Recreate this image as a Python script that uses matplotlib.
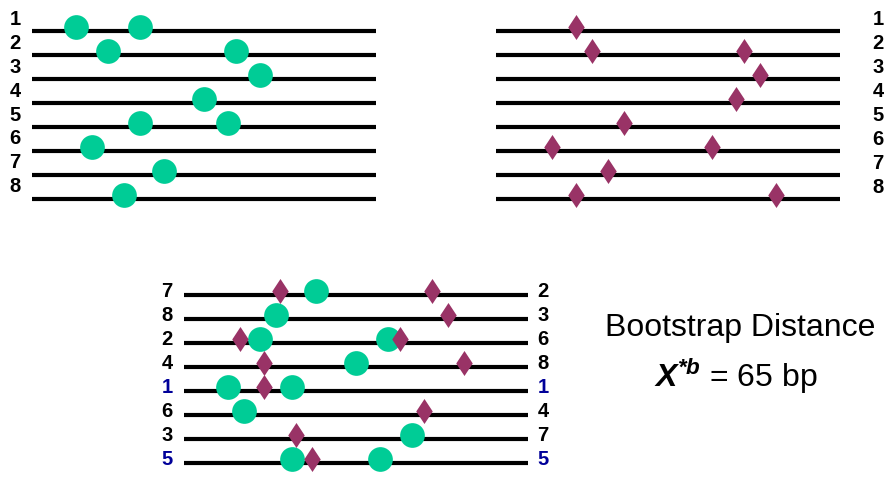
import matplotlib
matplotlib.use("Agg")
import matplotlib.pyplot as plt

# ---- data ----
rows = [1, 2, 3, 4, 5, 6, 7, 8]
# marker positions along each line (line length = 344 units)
circle_pos = [[44, 108], [76, 204], [228], [172], [108, 196], [60], [132], [92]]
diamond_pos = [[80], [96, 248], [264], [240], [128], [56, 216], [112], [80, 280]]
bottom_left_order = [7, 8, 2, 4, 1, 6, 3, 5]
bottom_right_order = [2, 3, 6, 8, 1, 4, 7, 5]
highlight_rows = [1, 5]
title_line1 = "Bootstrap Distance"
distance_bp = 65

# ---- style ----
LINE_LEN = 344
TEAL = "#00CC96"
PURPLE = "#993366"
NAVY = "#000099"
plt.rcParams['font.family'] = ['Liberation Sans', 'DejaVu Sans']
plt.rcParams['mathtext.fontset'] = 'custom'
plt.rcParams['mathtext.rm'] = 'Liberation Sans'
plt.rcParams['mathtext.bfit'] = 'Liberation Sans:italic:bold'

fig = plt.figure(figsize=(8.9, 4.79), dpi=100)
ax = fig.add_axes([0, 0, 1, 1])
ax.set_xlim(0, 890)
ax.set_ylim(479, 0)
ax.axis('off')

LW = 3.0
CIRC_MS = 17.8
DIAM_MS = 18.0
DIAMOND = [(0, 1), (0.66, 0), (0, -1), (-0.66, 0), (0, 1)]
LBL_FS = 14.5


def draw_circles(x0, y, pos):
    ax.plot([x0 + p for p in pos], [y - 3.5] * len(pos), 'o', color=TEAL,
            markersize=CIRC_MS, markeredgewidth=0, zorder=3)


def draw_diamonds(x0, y, pos):
    ax.plot([x0 + p for p in pos], [y - 3.5] * len(pos), linestyle='none',
            marker=DIAMOND, color=PURPLE,
            markersize=DIAM_MS, markeredgewidth=0, zorder=4)


# top-left panel (circles)
x0 = 32
for i, r in enumerate(rows):
    y = 30.5 + 24 * i
    ax.plot([x0, x0 + LINE_LEN], [y, y], color='black', lw=LW, solid_capstyle='butt', zorder=1)
    ax.text(15, y - 11.5, str(r), ha='center', va='center', fontsize=LBL_FS,
            fontweight='bold', color='black')
    draw_circles(x0, y, circle_pos[i])

# top-right panel (diamonds)
x0 = 496
for i, r in enumerate(rows):
    y = 30.5 + 24 * i
    ax.plot([x0, x0 + LINE_LEN], [y, y], color='black', lw=LW, solid_capstyle='butt', zorder=1)
    ax.text(878, y - 11, str(r), ha='center', va='center', fontsize=LBL_FS,
            fontweight='bold', color='black')
    draw_diamonds(x0, y, diamond_pos[i])

# bottom panel (pairing)
x0 = 184
for i, (lr, rr) in enumerate(zip(bottom_left_order, bottom_right_order)):
    y = 294.5 + 24 * i
    ax.plot([x0, x0 + LINE_LEN], [y, y], color='black', lw=LW, solid_capstyle='butt', zorder=1)
    ax.text(167, y - 3, str(lr), ha='center', va='center', fontsize=LBL_FS,
            fontweight='bold', color=NAVY if lr in highlight_rows else 'black')
    ax.text(543, y - 3, str(rr), ha='center', va='center', fontsize=LBL_FS,
            fontweight='bold', color=NAVY if rr in highlight_rows else 'black')
    draw_circles(x0, y, circle_pos[rows.index(lr)])
    draw_diamonds(x0, y, diamond_pos[rows.index(rr)])

ax.text(740, 328, title_line1, ha='center', va='center', fontsize=23, color='black')
ax.text(736, 376, r"$\mathbfit{X}^{\mathbfit{*b}}$" + f" = {distance_bp} bp",
        ha='center', va='center', fontsize=23, color='black')

fig.savefig('out.png', dpi=100)
